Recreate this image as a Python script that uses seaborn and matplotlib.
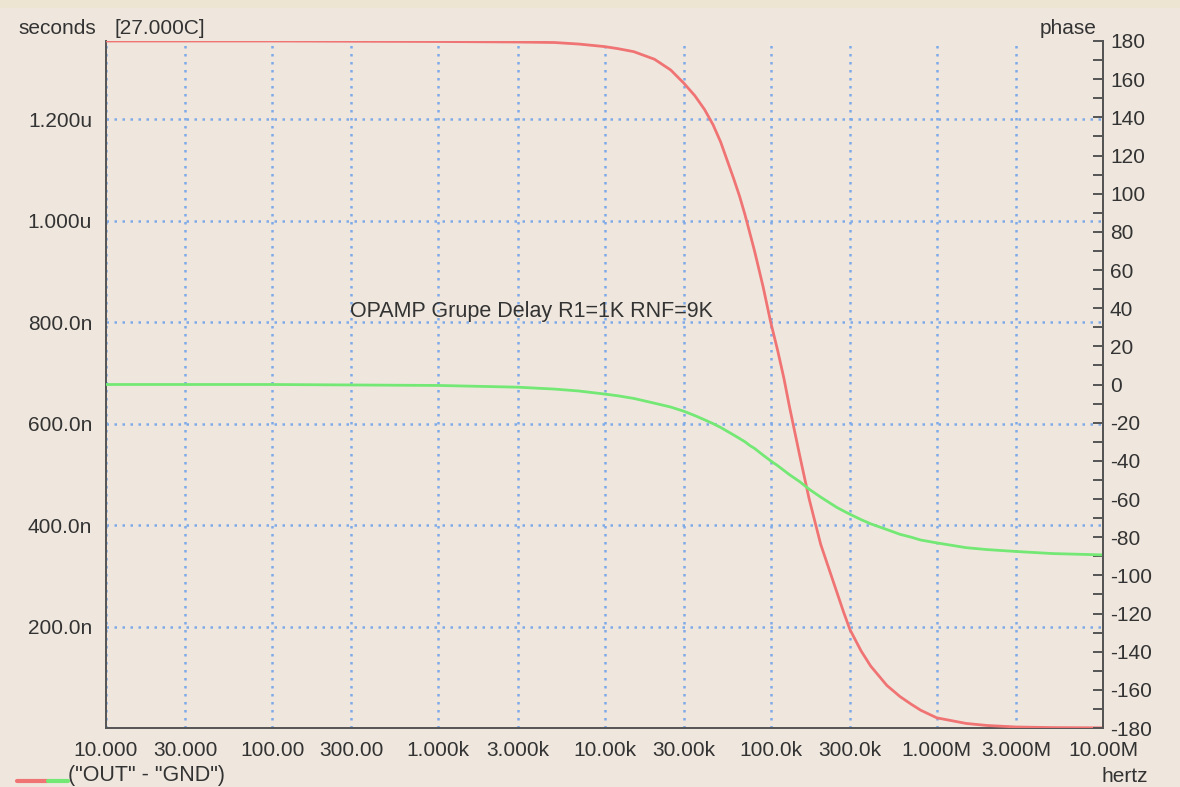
import numpy as np
import pandas as pd
import seaborn as sns
import matplotlib
matplotlib.use("Agg")
import matplotlib.pyplot as plt
from matplotlib.ticker import FixedLocator, MultipleLocator, FixedFormatter
from matplotlib.lines import Line2D
from matplotlib.patches import Rectangle

# ---------------- data ----------------
freq_hz = [10, 100, 1e3, 3e3, 5e3, 7e3, 1e4, 1.2e4, 1.5e4, 2e4, 2.5e4, 3e4, 3.5e4, 4e4,
           4.5e4, 5e4, 6e4, 6.5e4, 7e4, 7.5e4, 8e4, 9e4, 1e5, 1.1e5, 1.2e5, 1.3e5,
           1.5e5, 1.7e5, 2e5, 2.5e5, 2.75e5, 3e5, 3.5e5, 4e5, 5e5, 6e5, 7e5, 8e5,
           1e6, 1.5e6, 2e6, 3e6, 5e6, 1e7]
group_delay_ns = [1354, 1354, 1353, 1352, 1351, 1348, 1343, 1339, 1333, 1318, 1297, 1271,
                  1246, 1219, 1189, 1155, 1082, 1048, 1012, 975, 940, 870, 800, 745,
                  690, 632, 535, 453, 362, 268, 228, 194, 152, 122, 84, 62, 47, 35,
                  20, 9, 5, 2, 0.8, 0.3]
phase_deg = [0, 0, -0.5, -1.4, -2.4, -3.4, -5, -5.9, -7.3, -9.8, -11.8, -14, -16.3, -18.5,
             -20.5, -22.5, -26.5, -28.3, -30, -32, -33.5, -37, -40, -42.5, -45, -47.3,
             -51, -54.8, -59, -64.4, -66.3, -68, -70.8, -73, -76, -78.5, -80, -81.5,
             -83, -85.5, -86.5, -87.5, -88.6, -89.3]

x_ticks = [10, 30, 100, 300, 1e3, 3e3, 1e4, 3e4, 1e5, 3e5, 1e6, 3e6, 1e7]
x_tick_labels = ["10.000", "30.000", "100.00", "300.00", "1.000k", "3.000k", "10.00k",
                 "30.00k", "100.0k", "300.0k", "1.000M", "3.000M", "10.00M"]
left_ticks = [200e-9, 400e-9, 600e-9, 800e-9, 1.0e-6, 1.2e-6]
left_tick_labels = ["200.0n", "400.0n", "600.0n", "800.0n", "1.000u", "1.200u"]
right_ticks = list(range(-180, 181, 20))

df = pd.DataFrame({"freq": freq_hz,
                   "delay": [v * 1e-9 for v in group_delay_ns],
                   "phase": phase_deg})

# ---------------- style ----------------
BG = "#EFE7DE"
RED = "#F07474"
GREEN = "#74E874"
GRID = "#7FAAE8"
TXT = "#333333"
AX = "#555555"

sns.set_style("white", {"axes.facecolor": BG, "figure.facecolor": BG})
plt.rcParams["font.family"] = ["Liberation Sans", "DejaVu Sans"]
plt.rcParams["axes.unicode_minus"] = False
FS = 15

fig = plt.figure(figsize=(11.8, 7.87), dpi=100)
fig.patch.set_facecolor(BG)
fig.add_artist(Rectangle((0, 1 - 8 / 787), 1, 8 / 787, transform=fig.transFigure,
                         facecolor="#EDE4D2", edgecolor="none", zorder=0))

L, R, B, T = 106 / 1180, 1103 / 1180, 1 - 728 / 787, 1 - 41 / 787
ax = fig.add_axes([L, B, R - L, T - B])
ax.set_facecolor(BG)

sns.lineplot(data=df, x="freq", y="delay", ax=ax, color=RED, linewidth=2.0, zorder=3)
ax.set_xscale("log")
ax.set_xlim(10, 1e7)
ax.set_ylim(0, 1.354e-6)

ax.xaxis.set_major_locator(FixedLocator(x_ticks))
ax.xaxis.set_major_formatter(FixedFormatter(x_tick_labels))
ax.xaxis.set_minor_locator(FixedLocator([]))
ax.yaxis.set_major_locator(FixedLocator(left_ticks))
ax.yaxis.set_major_formatter(FixedFormatter(left_tick_labels))
ax.tick_params(axis="x", length=0, pad=9, labelsize=FS, labelcolor=TXT)
ax.tick_params(axis="y", length=0, pad=10, labelsize=FS, labelcolor=TXT)
ax.set_xlabel("")
ax.set_ylabel("")
ax.grid(True, color=GRID, linestyle=(0, (1, 2.2)), linewidth=1.8)

ax.spines["top"].set_visible(False)
for side in ["left", "bottom", "right"]:
    ax.spines[side].set_color(AX)
    ax.spines[side].set_linewidth(1.4)

ax2 = ax.twinx()
sns.lineplot(data=df, x="freq", y="phase", ax=ax2, color=GREEN, linewidth=2.0)
ax2.set_ylim(-180, 180)
ax2.yaxis.set_major_locator(FixedLocator(right_ticks))
ax2.yaxis.set_minor_locator(MultipleLocator(10))
ax2.tick_params(axis="y", which="major", direction="in", length=7, width=1.4,
                color=AX, pad=5, labelsize=FS, labelcolor=TXT)
ax2.tick_params(axis="y", which="minor", direction="in", length=7, width=1.4, color=AX)
ax2.set_ylabel("")
ax2.set_xlabel("")
for side in ["top", "left", "bottom"]:
    ax2.spines[side].set_visible(False)
ax2.spines["right"].set_color(AX)
ax2.spines["right"].set_linewidth(1.4)
ax2.set_zorder(ax.get_zorder() + 1)
ax2.patch.set_visible(False)

# annotation inside the plot
ax.text(296, 820e-9, "OPAMP Grupe Delay R1=1K RNF=9K", fontsize=15.5, color=TXT,
        ha="left", va="center")

# outer labels
fig.text(18 / 1180, 1 - 28 / 787, "seconds", fontsize=FS, color=TXT,
         ha="left", va="center")
fig.text(114 / 1180, 1 - 28 / 787, "[27.000C]", fontsize=FS, color=TXT,
         ha="left", va="center")
fig.text(1097 / 1180, 1 - 28 / 787, "phase", fontsize=FS, color=TXT,
         ha="right", va="center")
fig.text(1148 / 1180, 1 - 777 / 787, "hertz", fontsize=FS, color=TXT,
         ha="right", va="center")

# legend-like marker at bottom left
ly = 1 - 781 / 787
fig.add_artist(Line2D([17 / 1180, 48 / 1180], [ly, ly], color=RED, linewidth=3,
                      transform=fig.transFigure))
fig.add_artist(Line2D([48 / 1180, 68 / 1180], [ly, ly], color=GREEN, linewidth=3,
                      transform=fig.transFigure))
fig.text(68 / 1180, 1 - 776 / 787, '("OUT" - "GND")', fontsize=15.5, color=TXT,
         ha="left", va="center")

fig.savefig("out.png", dpi=100, facecolor=BG)
